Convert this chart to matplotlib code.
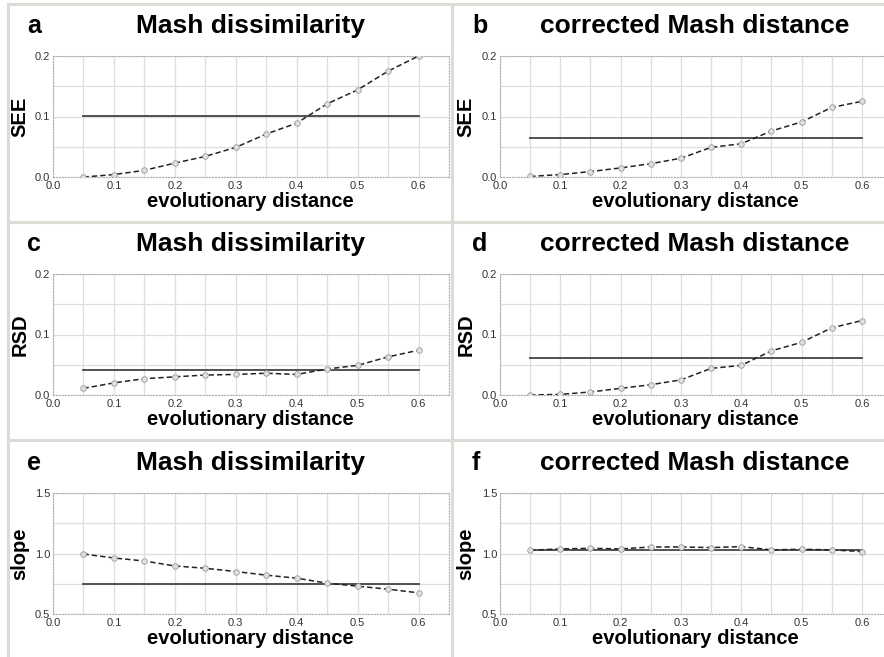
import matplotlib
matplotlib.use("Agg")
import matplotlib.pyplot as plt
from matplotlib.lines import Line2D
from matplotlib.ticker import MultipleLocator

plt.rcParams['font.family'] = ['Liberation Sans', 'DejaVu Sans']

# evolutionary distance (x) shared by all panels
dist = [0.05, 0.10, 0.15, 0.20, 0.25, 0.30, 0.35, 0.40, 0.45, 0.50, 0.55, 0.60]

# SEE
see_mash = [0.000, 0.004, 0.011, 0.023, 0.034, 0.049, 0.071, 0.089, 0.121, 0.144, 0.175, 0.200]
see_corr = [0.001, 0.004, 0.009, 0.015, 0.022, 0.031, 0.049, 0.055, 0.076, 0.091, 0.115, 0.125]
see_mash_ref = 0.101
see_corr_ref = 0.064

# RSD
rsd_mash = [0.011, 0.020, 0.027, 0.030, 0.033, 0.034, 0.036, 0.034, 0.043, 0.049, 0.063, 0.074]
rsd_corr = [0.000, 0.001, 0.005, 0.011, 0.017, 0.025, 0.044, 0.049, 0.073, 0.087, 0.111, 0.123]
rsd_mash_ref = 0.041
rsd_corr_ref = 0.061

# slope
slope_mash = [0.996, 0.963, 0.938, 0.897, 0.878, 0.851, 0.821, 0.796, 0.755, 0.730, 0.705, 0.675]
slope_corr = [1.027, 1.038, 1.043, 1.038, 1.054, 1.054, 1.049, 1.057, 1.030, 1.035, 1.030, 1.016]
slope_mash_ref = 0.749
slope_corr_ref = 1.033

titles = ["Mash dissimilarity", "corrected Mash distance"]
letters = ["a", "b", "c", "d", "e", "f"]
ylabels = ["SEE", "RSD", "slope"]

W, H = 884, 657
fig = plt.figure(figsize=(W / 100, H / 100), dpi=100)

def fx(px):
    return px / W

def fy(py):
    return 1 - py / H

panels = [
    (see_mash, see_mash_ref, see_corr, see_corr_ref, (0.0, 0.2), 0.1, 0.05),
    (rsd_mash, rsd_mash_ref, rsd_corr, rsd_corr_ref, (0.0, 0.2), 0.1, 0.05),
    (slope_mash, slope_mash_ref, slope_corr, slope_corr_ref, (0.5, 1.5), 0.5, 0.25),
]

row_off = [0, 218, 437]
col_left = [53, 500]
col_xlab = [250, 695]
col_letter = [27, 472]
col_ylab = [20, 466]

for r, (ym, ymr, yc, ycr, ylim, major, minor) in enumerate(panels):
    for c, (ys, ref) in enumerate([(ym, ymr), (yc, ycr)]):
        top = 56 + row_off[r]
        bot = 177 + row_off[r]
        left = col_left[c]
        width = 396 if c == 0 else 392
        ax = fig.add_axes([fx(left), fy(bot), fx(width), (bot - top) / H])
        ax.set_xlim(0, 0.65)
        ax.set_ylim(*ylim)
        ax.xaxis.set_major_locator(MultipleLocator(0.1))
        ax.xaxis.set_minor_locator(MultipleLocator(0.05))
        ax.yaxis.set_major_locator(MultipleLocator(major))
        ax.yaxis.set_minor_locator(MultipleLocator(minor))
        ax.grid(True, which='both', color='#dedede', lw=0.9)
        ax.set_axisbelow(True)
        for sp in ax.spines.values():
            sp.set_linestyle(':')
            sp.set_color('#b0b0b0')
            sp.set_linewidth(0.8)
        ax.tick_params(which='both', length=0, labelsize=8, colors='#333333')
        ax.tick_params(axis='y', pad=2)
        ax.tick_params(axis='x', pad=3)
        ax.xaxis.set_major_formatter(plt.FormatStrFormatter('%.1f'))
        ax.yaxis.set_major_formatter(plt.FormatStrFormatter('%.1f'))

        ax.plot([dist[0], dist[-1]], [ref, ref], color='#444444', lw=1.3, zorder=3)
        ax.plot(dist, ys, color='#222222', lw=1.1, dashes=(3.5, 2), zorder=4,
                marker='o', markersize=4, markerfacecolor='#e0e0e0',
                markeredgecolor='#999999', markeredgewidth=0.6)

        # panel texts
        fig.text(fx(col_xlab[c]), fy(33 + row_off[r]), titles[c], ha='center',
                 va='baseline', fontsize=19, fontweight='bold')
        fig.text(fx(col_letter[c]), fy(33 + row_off[r]), letters[2 * r + c],
                 ha='left', va='baseline', fontsize=18, fontweight='bold')
        fig.text(fx(col_xlab[c]), fy(207 + row_off[r]), "evolutionary distance",
                 ha='center', va='baseline', fontsize=14.5, fontweight='bold')
        fig.text(fx(col_ylab[c]), fy((top + bot) / 2), ylabels[r], rotation=90,
                 ha='center', va='center', fontsize=14.5, fontweight='bold')

# panel separators
sep = dict(color='#dcdcd6', lw=2.2, transform=fig.transFigure)
fig.add_artist(Line2D([fx(8), 1], [fy(4), fy(4)], **sep))
fig.add_artist(Line2D([fx(8), fx(8)], [fy(4), 0], **sep))
fig.add_artist(Line2D([fx(452), fx(452)], [fy(4), 0], **sep))
fig.add_artist(Line2D([fx(8), 1], [fy(222), fy(222)], **sep))
fig.add_artist(Line2D([fx(8), 1], [fy(440), fy(440)], **sep))

fig.savefig("out.png", dpi=100)
